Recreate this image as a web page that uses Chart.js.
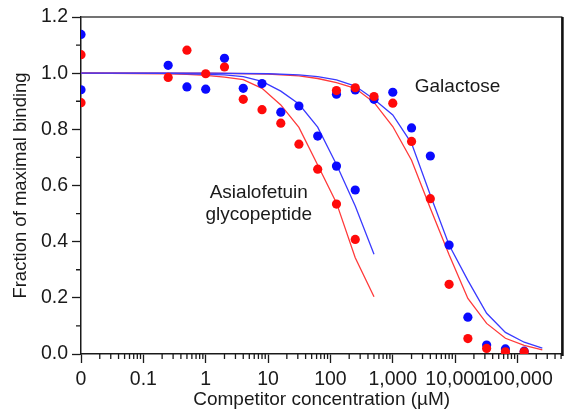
<!DOCTYPE html>
<html>
<head>
<meta charset="utf-8">
<script src="https://cdn.jsdelivr.net/npm/chart.js@4.4.0/dist/chart.umd.min.js"></script>
<style>
  body { margin: 0; background: #fff; }
  canvas { display: block; }
</style>
</head>
<body>
<canvas id="chart" width="567" height="414"></canvas>
<script>
// the "0" (no competitor) controls sit at 0.01 on the log axis
const controlX = [0.01, 0.01];
const controlBlue = [1.138, 0.941];
const controlRed = [1.066, 0.895];

const asialoX = [0.25, 0.5, 1, 2, 4, 8, 16, 31.25, 62.5, 125, 250];
const asialoBlue = [1.028, 0.951, 0.943, 1.053, 0.946, 0.963, 0.861, 0.883, 0.776, 0.669, 0.584];
const asialoRed = [0.985, 1.082, 0.998, 1.022, 0.907, 0.870, 0.822, 0.747, 0.658, 0.534, 0.408];

const galX = [125, 250, 500, 1000, 2000, 4000, 8000, 16000, 32000, 64000, 128000];
const galBlue = [0.925, 0.940, 0.907, 0.932, 0.805, 0.705, 0.388, 0.131, 0.032, 0.018, 0.010];
const galRed = [0.938, 0.948, 0.917, 0.893, 0.757, 0.553, 0.248, 0.055, 0.020, 0.008, 0.008];

// fitted curves
const asialoFitX = [0.01, 0.25, 0.5, 1, 2, 4, 8, 16, 31.25, 62.5, 125, 250, 500];
const asialoFitBlue = [1.0, 0.999, 0.998, 0.996, 0.994, 0.988, 0.971, 0.936, 0.89, 0.808, 0.675, 0.527, 0.355];
const asialoFitRed = [1.0, 0.998, 0.996, 0.992, 0.986, 0.977, 0.946, 0.887, 0.807, 0.673, 0.538, 0.343, 0.204];

const galFitX = [0.01, 1, 10, 31.25, 62.5, 125, 250, 500, 1000, 2000, 4000, 8000, 16000, 32000, 64000, 128000, 250000];
const galFitBlue = [1.0, 1.0, 0.998, 0.994, 0.988, 0.976, 0.954, 0.907, 0.851, 0.75, 0.566, 0.388, 0.262, 0.145, 0.077, 0.042, 0.021];
const galFitRed = [1.0, 1.0, 0.997, 0.99, 0.981, 0.966, 0.946, 0.896, 0.81, 0.69, 0.519, 0.353, 0.198, 0.109, 0.056, 0.031, 0.015];

const xTicks = [0.01, 0.1, 1, 10, 100, 1000, 10000, 100000];
const xTickLabels = ["0", "0.1", "1", "10", "100", "1,000", "10,000", "100,000"];
const yMinorTicks = [0.1, 0.3, 0.5, 0.7, 0.9, 1.1];

const BLUE = "#0a0aff";
const RED = "#ff0a0a";
const BLUE_LINE = "#3a3aff";
const RED_LINE = "#ff3a3a";
const INK = "#1a1a1a";
const FONT = "'Liberation Sans', Arial, sans-serif";

function toXY(xs, ys) {
  return xs.map((x, i) => ({ x: x, y: ys[i] }));
}

function pointSet(label, color, order, parts) {
  let data = [];
  parts.forEach(p => { data = data.concat(toXY(p[0], p[1])); });
  return {
    label: label,
    data: data,
    backgroundColor: color,
    borderWidth: 0,
    pointRadius: 4.6,
    showLine: false,
    order: order
  };
}

function curveSet(label, xs, ys, color, order) {
  return {
    label: label,
    data: toXY(xs, ys),
    borderColor: color,
    borderWidth: 1.3,
    pointRadius: 0,
    showLine: true,
    tension: 0,
    fill: false,
    order: order
  };
}

// minor ticks, closing frame and the two curve labels
const extras = {
  id: "extras",
  afterDraw(chart) {
    const ctx = chart.ctx;
    const xs = chart.scales.x;
    const ys = chart.scales.y;
    const a = chart.chartArea;
    ctx.save();
    ctx.strokeStyle = INK;
    ctx.lineWidth = 1.3;
    ctx.beginPath();
    for (let d = 0; d < xTicks.length; d++) {
      for (let m = 2; m <= 9; m++) {
        const v = xTicks[d] * m;
        if (v > xs.max) break;
        const px = xs.getPixelForValue(v);
        ctx.moveTo(px, a.bottom);
        ctx.lineTo(px, a.bottom + 5);
      }
    }
    yMinorTicks.forEach(v => {
      const py = ys.getPixelForValue(v);
      ctx.moveTo(a.left - 5, py);
      ctx.lineTo(a.left, py);
    });
    ctx.stroke();

    ctx.strokeStyle = "#444";
    ctx.lineWidth = 1.6;
    ctx.beginPath();
    ctx.moveTo(a.left, a.top);
    ctx.lineTo(a.right, a.top);
    ctx.stroke();
    ctx.strokeStyle = "#111";
    ctx.lineWidth = 2.6;
    ctx.beginPath();
    ctx.moveTo(a.right, a.top);
    ctx.lineTo(a.right, a.bottom + 2);
    ctx.stroke();

    ctx.fillStyle = INK;
    ctx.font = "19px " + FONT;
    ctx.textBaseline = "middle";
    ctx.textAlign = "left";
    ctx.fillText("Galactose", xs.getPixelForValue(2250), ys.getPixelForValue(0.953));
    ctx.textAlign = "center";
    const ax = xs.getPixelForValue(7.1);
    ctx.fillText("Asialofetuin", ax, ys.getPixelForValue(0.573));
    ctx.fillText("glycopeptide", ax, ys.getPixelForValue(0.497));
    ctx.restore();
  }
};

const chart = new Chart(document.getElementById("chart").getContext("2d"), {
  type: "scatter",
  data: {
    datasets: [
      pointSet("red", RED, 0, [[controlX, controlRed], [asialoX, asialoRed], [galX, galRed]]),
      pointSet("blue", BLUE, 1, [[controlX, controlBlue], [asialoX, asialoBlue], [galX, galBlue]]),
      curveSet("asialo fit blue", asialoFitX, asialoFitBlue, BLUE_LINE, 2),
      curveSet("asialo fit red", asialoFitX, asialoFitRed, RED_LINE, 3),
      curveSet("galactose fit blue", galFitX, galFitBlue, BLUE_LINE, 4),
      curveSet("galactose fit red", galFitX, galFitRed, RED_LINE, 5)
    ]
  },
  options: {
    responsive: false,
    animation: false,
    devicePixelRatio: 1,
    layout: { padding: { top: 17, right: 4, left: 0, bottom: 0 } },
    plugins: { legend: { display: false }, tooltip: { enabled: false } },
    scales: {
      x: {
        type: "logarithmic",
        min: 0.01,
        max: 525000,
        afterBuildTicks: s => { s.ticks = xTicks.map(v => ({ value: v })); },
        afterFit: s => { s.height = 60; },
        ticks: {
          autoSkip: false,
          maxRotation: 0,
          padding: 5,
          color: INK,
          font: { family: FONT, size: 19.5 },
          callback: (v, i) => xTickLabels[i]
        },
        grid: { drawOnChartArea: false, tickLength: 9, tickColor: INK, tickWidth: 1.3 },
        border: { color: INK, width: 1.5 },
        title: {
          display: true,
          text: "Competitor concentration (\u00b5M)",
          color: INK,
          font: { family: FONT, size: 19 },
          padding: { top: 0, bottom: 3 }
        }
      },
      y: {
        min: 0,
        max: 1.2,
        afterFit: s => { s.width = 81; },
        ticks: {
          stepSize: 0.2,
          padding: 4,
          color: INK,
          font: { family: FONT, size: 19.5 },
          callback: v => v.toFixed(1)
        },
        grid: { drawOnChartArea: false, tickLength: 9, tickColor: INK, tickWidth: 1.3 },
        border: { color: INK, width: 1.5 },
        title: {
          display: true,
          text: "Fraction of maximal binding",
          color: INK,
          font: { family: FONT, size: 18.5 },
          padding: { top: 10, bottom: 0 }
        }
      }
    }
  },
  plugins: [extras]
});
</script>
</body>
</html>
